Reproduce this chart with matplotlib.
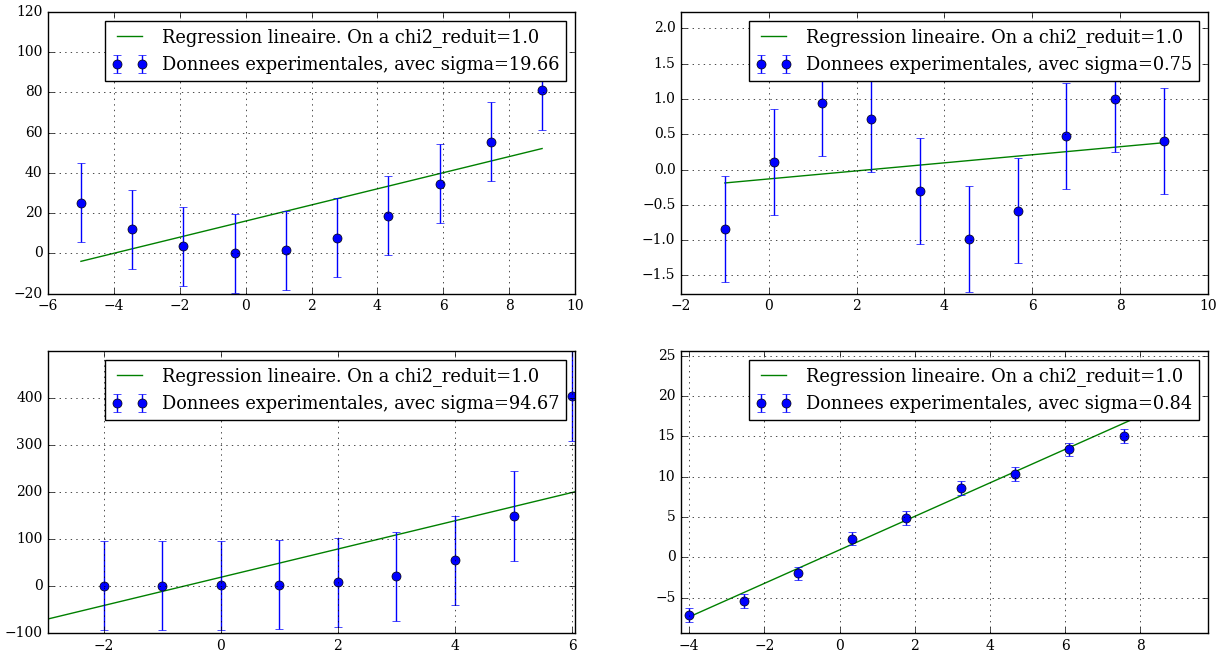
import matplotlib
matplotlib.use("Agg")
import matplotlib.pyplot as plt

plt.style.use("classic")
plt.rcParams["font.family"] = "serif"
plt.rcParams["font.serif"] = ["DejaVu Serif"]
plt.rcParams["mathtext.fontset"] = "dejavuserif"
plt.rcParams["figure.facecolor"] = "white"
plt.rcParams["savefig.facecolor"] = "white"

# ---- data ----
x1 = [-5.0, -3.444, -1.889, -0.333, 1.222, 2.778, 4.333, 5.889, 7.444, 9.0]
y1 = [25.1, 11.9, 3.6, 0.0, 1.5, 7.8, 18.7, 34.7, 55.5, 81.2]
sig1 = 19.66
fx1 = [-5.0, 9.0]
fy1 = [-4.0, 52.1]

x2 = [-1.0, 0.111, 1.222, 2.333, 3.444, 4.556, 5.667, 6.778, 7.889, 9.0]
y2 = [-0.84, 0.11, 0.94, 0.72, -0.30, -0.99, -0.58, 0.47, 1.00, 0.41]
sig2 = 0.75
fx2 = [-1.0, 9.0]
fy2 = [-0.19, 0.38]

x3 = [-2, -1, 0, 1, 2, 3, 4, 5, 6]
y3 = [0.14, 0.37, 1.0, 2.72, 7.39, 20.09, 54.6, 148.41, 403.43]
sig3 = 94.67
fx3 = [-2.95, 6.05]
fy3 = [-70.2, 200.0]

x4 = [-4.0, -2.556, -1.111, 0.333, 1.778, 3.222, 4.667, 6.111, 7.556]
y4 = [-7.2, -5.45, -2.0, 2.3, 4.88, 8.55, 10.33, 13.35, 15.04]
sig4 = 0.84
fx4 = [-4.0, 9.0]
fy4 = [-7.4, 19.6]

chi2 = 1.0

panels = [
    (x1, y1, sig1, fx1, fy1, (-6, 10), (-20, 120)),
    (x2, y2, sig2, fx2, fy2, (-2, 10), (-1.755, 2.23)),
    (x3, y3, sig3, fx3, fy3, (-2.95, 6.05), (-100, 498)),
    (x4, y4, sig4, fx4, fy4, (-4.22, 9.8), (-9.4, 25.5)),
]

fig, axes = plt.subplots(2, 2, figsize=(12.25, 6.55), dpi=100)
fig.subplots_adjust(left=48/1225, right=1208/1225, top=1-12/655,
                    bottom=1-633/655, wspace=0.201, hspace=0.206)

for ax, (x, y, s, fx, fy, xl, yl) in zip(axes.flat, panels):
    ax.plot(fx, fy, color="g", lw=1,
            label="Regression lineaire. On a chi2_reduit=%s" % chi2)
    ax.errorbar(x, y, yerr=s, fmt="o", color="b", mfc="b", mec="k",
                mew=0.5, ms=6.5, ecolor="b", capsize=3,
                label="Donnees experimentales, avec sigma=%s" % s)
    ax.set_xlim(*xl)
    ax.set_ylim(*yl)
    ax.grid(True)
    ax.tick_params(labelsize=10)
    for lab in ax.get_xticklabels() + ax.get_yticklabels():
        lab.set_fontfamily("DejaVu Serif")
    ax.legend(loc="upper right", fontsize=12.8, numpoints=2,
              prop={"family": "DejaVu Serif", "size": 12.8})

fig.savefig("out.png", dpi=100)
